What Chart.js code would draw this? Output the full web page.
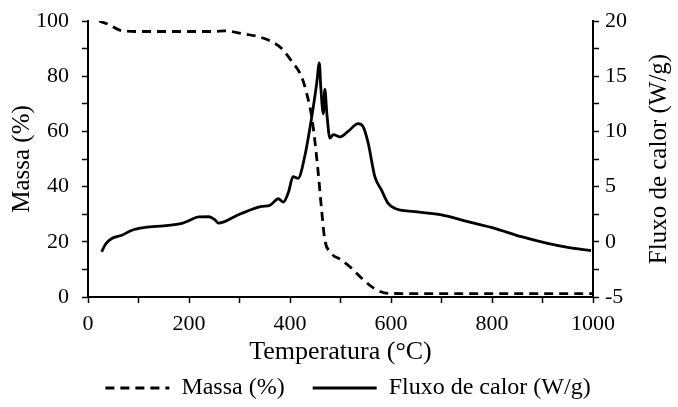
<!DOCTYPE html>
<html>
<head>
<meta charset="utf-8">
<script src="https://cdn.jsdelivr.net/npm/chart.js@4"></script>
<style>
  html, body { margin: 0; padding: 0; background: #fff; }
  #wrap { width: 678px; height: 407px; }
</style>
</head>
<body>
<div id="wrap"><canvas id="tgaChart" width="678" height="407"></canvas></div>
<script>
// Mass loss curve (left axis)
const massTemp = [22, 40, 67, 100, 150, 200, 250, 271, 304, 340, 364, 383, 403, 423, 433, 443, 449, 456, 462, 469, 479, 502, 522, 542, 567, 595, 700, 800, 900, 1000];
const massPct = [100, 98.8, 96.5, 96.2, 96.2, 96.2, 96.2, 96.4, 95.5, 94.2, 92.5, 90.1, 85.5, 79.8, 73.8, 65.3, 56.9, 44.8, 32.7, 20.7, 16.4, 13.4, 10.4, 6.8, 3.1, 1.3, 1.2, 1.2, 1.2, 1.2];

// Heat flow curve (right axis)
const heatTemp = [27, 35, 47, 67, 87, 113, 150, 186, 199, 219, 239, 251, 258, 300, 344, 360, 377, 387, 397, 406, 416, 429, 443, 453, 458, 461, 466, 469, 473, 479, 486, 499, 515, 535, 545, 555, 568, 581, 594, 607, 647, 700, 752, 805, 858, 910, 950, 996];
const heatFlow = [-0.9, -0.2, 0.3, 0.6, 1.05, 1.3, 1.45, 1.67, 1.9, 2.25, 2.27, 2.0, 1.7, 2.5, 3.2, 3.3, 3.9, 3.6, 4.5, 5.9, 5.75, 7.7, 11.3, 14.4, 16.2, 14.0, 11.6, 13.8, 11.6, 9.4, 9.7, 9.5, 10.0, 10.7, 10.4, 8.9, 5.9, 4.7, 3.5, 3.03, 2.73, 2.43, 1.82, 1.22, 0.46, -0.14, -0.5, -0.8];

const xLabels = [0, 200, 400, 600, 800, 1000];
const massLabels = [0, 20, 40, 60, 80, 100];
const heatLabels = [-5, 0, 5, 10, 15, 20];

const FONT = "'Liberation Serif', 'Times New Roman', serif";

function toPoints(xs, ys) {
  return xs.map((x, i) => ({ x: x, y: ys[i] }));
}

function axisCommon(labels, pad) {
  return {
    border: { display: true, color: "#000", width: 2 },
    grid: { drawOnChartArea: false, drawTicks: true, tickLength: 6, color: "#000", tickWidth: 1.5 },
    ticks: {
      color: "#000",
      font: { family: FONT, size: 22 },
      padding: pad,
      autoSkip: false,
      maxRotation: 0,
      callback: (v) => (labels.includes(v) ? v : ""),
    },
  };
}

// fixed width for the y scales, without extra room for label overhang
function fixWidth(w) {
  return (scale) => {
    scale.width = w;
    scale.paddingTop = 0;
    scale.paddingBottom = 0;
  };
}

// Both y titles read bottom-to-top
const sideTitles = {
  id: "sideTitles",
  afterDraw(chart) {
    const ctx = chart.ctx;
    const area = chart.chartArea;
    const midY = (area.top + area.bottom) / 2;
    ctx.save();
    ctx.fillStyle = "#000";
    ctx.font = "25px " + FONT;
    ctx.textAlign = "center";
    ctx.textBaseline = "middle";
    [[22, "Massa (%)"], [659, "Fluxo de calor (W/g)"]].forEach(([x, text]) => {
      ctx.save();
      ctx.translate(x, midY);
      ctx.rotate(-Math.PI / 2);
      ctx.fillText(text, 0, 0);
      ctx.restore();
    });
    ctx.restore();
  },
};

const ctx = document.getElementById("tgaChart").getContext("2d");
new Chart(ctx, {
  type: "line",
  data: {
    datasets: [
      {
        label: "Massa (%)",
        data: toPoints(massTemp, massPct),
        yAxisID: "y",
        borderColor: "#000",
        backgroundColor: "#000",
        borderWidth: 2.8,
        borderDash: [9, 6],
        pointRadius: 0,
        cubicInterpolationMode: "monotone",
      },
      {
        label: "Fluxo de calor (W/g)",
        data: toPoints(heatTemp, heatFlow),
        yAxisID: "y1",
        borderColor: "#000",
        backgroundColor: "#000",
        borderWidth: 2.8,
        pointRadius: 0,
        cubicInterpolationMode: "monotone",
      },
    ],
  },
  options: {
    responsive: false,
    animation: false,
    layout: { padding: { top: 21, left: 18, right: 0, bottom: -3 } },
    plugins: {
      tooltip: { enabled: false },
      legend: {
        display: true,
        position: "bottom",
        labels: {
          color: "#000",
          font: { family: FONT, size: 24 },
          usePointStyle: true,
          pointStyle: "line",
          pointStyleWidth: 64,
          padding: 10,
          generateLabels: (chart) =>
            chart.data.datasets.map((ds, i) => ({
              text: ds.label + (i === 0 ? "   " : ""),
              fillStyle: ds.borderColor,
              strokeStyle: ds.borderColor,
              fontColor: "#000",
              lineWidth: ds.borderWidth,
              lineDash: ds.borderDash || [],
              pointStyle: "line",
              hidden: false,
              datasetIndex: i,
            })),
        },
      },
    },
    scales: {
      x: {
        type: "linear",
        min: 0,
        max: 1000,
        ...axisCommon(xLabels, 8),
        ticks: { ...axisCommon(xLabels, 8).ticks, stepSize: 100 },
        title: { display: true, text: "Temperatura (°C)", color: "#000", font: { family: FONT, size: 26 }, padding: { top: 0, bottom: -2 } },
        afterFit: (scale) => { scale.height = 69; },
      },
      y: {
        type: "linear",
        position: "left",
        min: 0,
        max: 100,
        ...axisCommon(massLabels, 13),
        ticks: { ...axisCommon(massLabels, 13).ticks, stepSize: 10 },
        afterFit: fixWidth(70),
      },
      y1: {
        type: "linear",
        position: "right",
        min: -5,
        max: 20,
        ...axisCommon(heatLabels, 6),
        ticks: { ...axisCommon(heatLabels, 6).ticks, stepSize: 2.5 },
        afterFit: fixWidth(85),
      },
    },
  },
  plugins: [sideTitles],
});
</script>
</body>
</html>
